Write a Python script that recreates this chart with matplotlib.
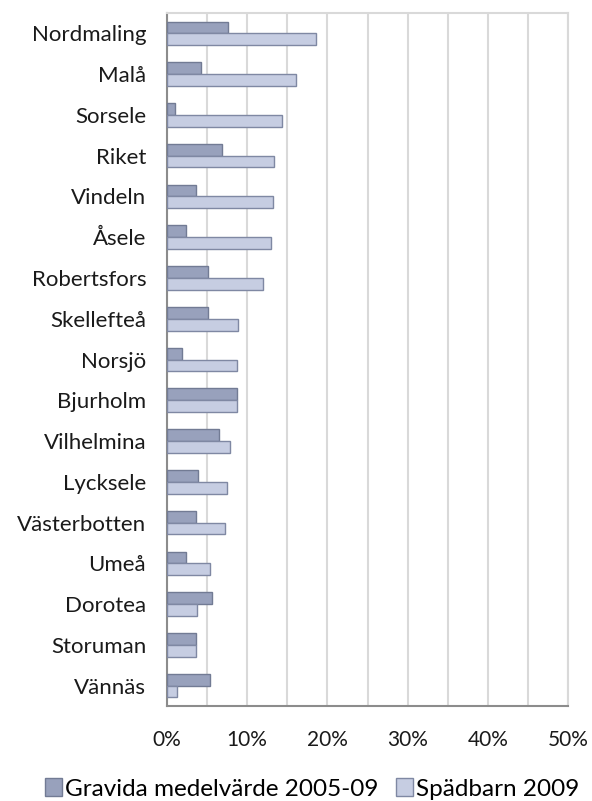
import matplotlib
matplotlib.use("Agg")
import matplotlib.pyplot as plt
import numpy as np
from matplotlib.ticker import MultipleLocator, FuncFormatter

categories = ["Nordmaling", "Malå", "Sorsele", "Riket", "Vindeln", "Åsele",
              "Robertsfors", "Skellefteå", "Norsjö", "Bjurholm", "Vilhelmina",
              "Lycksele", "Västerbotten", "Umeå", "Dorotea", "Storuman", "Vännäs"]
gravida = [7.6, 4.2, 0.95, 6.9, 3.6, 2.4, 5.1, 5.1, 1.9, 8.75, 6.5, 3.9, 3.6, 2.4, 5.6, 3.6, 5.3]
spadbarn = [18.6, 16.1, 14.4, 13.3, 13.2, 13.0, 12.0, 8.9, 8.75, 8.75, 7.8, 7.5, 7.25, 5.4, 3.7, 3.6, 1.3]
series_names = ["Gravida medelvärde 2005-09", "Spädbarn 2009"]

plt.rcParams['font.family'] = ['Lato', 'DejaVu Sans']

fig = plt.figure(figsize=(5.92, 8.01), dpi=100)
ax = fig.add_axes([167/592, 1 - 706/801, (568-167)/592, (706-13)/801])

y = np.arange(len(categories))
h = 0.29
ax.barh(y - h/2, gravida, height=h, color='#98A1BC', edgecolor='#727B94', linewidth=1.0,
        label=series_names[0], zorder=3)
ax.barh(y + h/2, spadbarn, height=h, color='#C6CDE2', edgecolor='#7F88A3', linewidth=1.0,
        label=series_names[1], zorder=3)

ax.set_ylim(len(categories) - 0.5, -0.5)
ax.set_xlim(0, 50)
ax.set_yticks(y)
ax.set_yticklabels(categories, fontsize=16, color='#1a1a1a')
ax.xaxis.set_major_locator(MultipleLocator(10))
ax.xaxis.set_minor_locator(MultipleLocator(5))
ax.xaxis.set_major_formatter(FuncFormatter(lambda v, p: f"{int(v)}%"))
ax.tick_params(axis='x', which='both', length=0, labelsize=15, labelcolor='#1a1a1a', pad=17)
ax.tick_params(axis='y', length=0, pad=15)
ax.grid(axis='x', which='both', color='#D9D9D9', linewidth=1.5, zorder=0)

for s in ['left', 'bottom']:
    ax.spines[s].set_color('#8C8C8C')
    ax.spines[s].set_linewidth(1.5)
for s in ['top', 'right']:
    ax.spines[s].set_color('#D9D9D9')
    ax.spines[s].set_linewidth(1.5)

fig.legend(loc='center', bbox_to_anchor=(312/592, 1 - 789/801), ncol=2, frameon=False,
           fontsize=17.5, handlelength=0.7, handleheight=0.7, handletextpad=0.15,
           columnspacing=0.7, borderpad=0, borderaxespad=0)

fig.savefig("out.png", dpi=100)
